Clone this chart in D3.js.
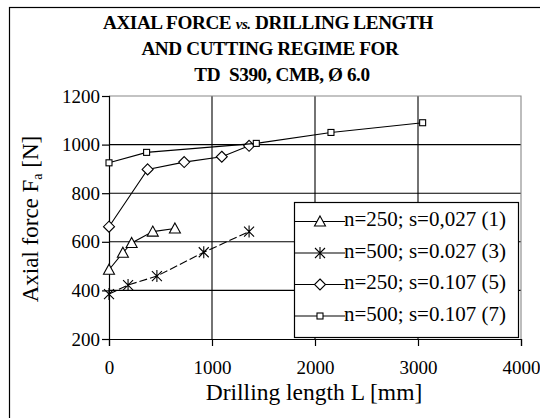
<!DOCTYPE html>
<html>
<head>
<meta charset="utf-8">
<script src="https://cdn.jsdelivr.net/npm/d3@7"></script>
<style>
  body { margin: 0; background: #fff; }
  svg, svg text { font-family: "Liberation Serif", "Times New Roman", serif; }
</style>
</head>
<body>
<div id="chart"></div>
<script>
// drilling length L [mm] and axial force Fa [N] per regime
const lenS1 = [0, 135, 220, 425, 640]
const forceS1 = [485, 555, 595, 642, 655]
const lenS3 = [0, 185, 465, 920, 1360]
const forceS3 = [385, 422, 459, 557, 642]
const lenS5 = [0, 375, 730, 1095, 1360]
const forceS5 = [662, 898, 928, 950, 995]
const lenS7 = [0, 365, 1430, 2155, 3045]
const forceS7 = [925, 968, 1005, 1050, 1090]

const seriesNames = ["n=250; s=0,027 (1)", "n=500; s=0.027 (3)", "n=250; s=0.107 (5)", "n=500; s=0.107 (7)"]
const xTicks = [0, 1000, 2000, 3000, 4000]
const yTicks = [200, 400, 600, 800, 1000, 1200]
const titleLines = ["AXIAL FORCE ", "AND CUTTING REGIME  FOR", "TD  S390, CMB, Ø 6.0"]

const width = 540, height = 418
const plot = {left: 109, right: 521, top: 96, bottom: 339}
const serif = "'Liberation Serif', 'Times New Roman', serif"

const series = [
  {name: seriesNames[0], xs: lenS1, ys: forceS1, marker: "triangle", dash: null},
  {name: seriesNames[1], xs: lenS3, ys: forceS3, marker: "asterisk", dash: "8,3"},
  {name: seriesNames[2], xs: lenS5, ys: forceS5, marker: "diamond", dash: null},
  {name: seriesNames[3], xs: lenS7, ys: forceS7, marker: "square", dash: null}
]

const x = d3.scaleLinear().domain([0, 4000]).range([plot.left, plot.right])
const y = d3.scaleLinear().domain([200, 1200]).range([plot.bottom, plot.top])

const svg = d3.select("#chart").append("svg")
    .attr("width", width)
    .attr("height", height)
    .attr("font-family", serif)

// outer frame (runs off the right/bottom edge like the original)
svg.append("rect")
    .attr("x", 9.5).attr("y", 7.5)
    .attr("width", 560).attr("height", 440)
    .attr("fill", "none").attr("stroke", "#000").attr("stroke-width", 1.2)

// title
const title = svg.append("g")
    .attr("font-weight", "bold")
    .attr("font-size", 19.2)
    .attr("text-anchor", "middle")
    .attr("letter-spacing", -0.4)
const t1 = title.append("text").attr("x", 268).attr("y", 29)
t1.append("tspan").text(titleLines[0])
t1.append("tspan").attr("font-style", "italic").attr("font-size", 15).text("vs.")
t1.append("tspan").text(" DRILLING LENGTH")
title.append("text").attr("x", 270).attr("y", 55).text(titleLines[1])
title.append("text").attr("x", 282).attr("y", 81).attr("xml:space", "preserve").text(titleLines[2])

// grid
svg.append("g")
    .selectAll("line")
    .data(yTicks.filter(d => d !== 200 && d !== 1200))
    .join("line")
      .attr("x1", plot.left).attr("x2", plot.right)
      .attr("y1", d => y(d)).attr("y2", d => y(d))
      .attr("stroke", "#000").attr("stroke-width", 1.1)

svg.append("g")
    .selectAll("line")
    .data(xTicks.filter(d => d !== 0 && d !== 4000))
    .join("line")
      .attr("x1", d => x(d)).attr("x2", d => x(d))
      .attr("y1", plot.top).attr("y2", plot.bottom)
      .attr("stroke", "#000").attr("stroke-width", 1.1)

// top and right border of plot area (lighter)
svg.append("path")
    .attr("d", `M${plot.left},${y(1200)}H${plot.right}V${plot.bottom}`)
    .attr("fill", "none").attr("stroke", "#888").attr("stroke-width", 1.1)

// axes
const xAxis = svg.append("g")
    .attr("transform", `translate(0,${plot.bottom})`)
    .call(d3.axisBottom(x).tickValues(xTicks).tickSize(7).tickPadding(14.5).tickFormat(d3.format("d")))
const yAxis = svg.append("g")
    .attr("transform", `translate(${plot.left},0)`)
    .call(d3.axisLeft(y).tickValues(yTicks).tickSize(7).tickPadding(2).tickFormat(d3.format("d")))

for (const ax of [xAxis, yAxis]) {
  ax.attr("font-family", serif).attr("font-size", 19)
  ax.select(".domain").attr("stroke", "#000").attr("stroke-width", 1.2)
  ax.selectAll(".tick line").attr("stroke", "#000").attr("stroke-width", 1.2)
  ax.selectAll(".tick text").attr("fill", "#000")
}
// ticks of y cross slightly into the plot
yAxis.selectAll(".tick line").attr("x1", 1)

// axis titles
svg.append("text")
    .attr("x", 314).attr("y", 400)
    .attr("text-anchor", "middle")
    .attr("font-size", 23.5)
    .text("Drilling length L [mm]")

const yl = svg.append("text")
    .attr("transform", "translate(38,219) rotate(-90)")
    .attr("text-anchor", "middle")
    .attr("font-size", 23)
yl.append("tspan").text("Axial force F")
yl.append("tspan").attr("font-size", 14).attr("dy", 4).text("a")
yl.append("tspan").attr("dy", -4).text(" [N]")

// markers
function drawMarker(g, type) {
  if (type === "triangle") {
    g.append("path").attr("d", "M0,-5.5L5.5,4.5L-5.5,4.5Z")
  } else if (type === "asterisk") {
    g.append("path").attr("d", "M0,-6V6M-5,-5L5,5M5,-5L-5,5")
  } else if (type === "diamond") {
    g.append("path").attr("d", "M0,-5.5L5.5,0L0,5.5L-5.5,0Z")
  } else {
    g.append("rect").attr("x", -3).attr("y", -3).attr("width", 6).attr("height", 6)
  }
}

const line = d3.line()

for (const s of series) {
  const pts = s.xs.map((v, i) => [x(v), y(s.ys[i])])
  svg.append("path")
      .attr("d", line(pts))
      .attr("fill", "none")
      .attr("stroke", "#000")
      .attr("stroke-width", 1.1)
      .attr("stroke-dasharray", s.dash)
  svg.append("g")
    .selectAll("g")
    .data(pts)
    .join("g")
      .attr("transform", d => `translate(${d[0]},${d[1]})`)
      .attr("fill", "#fff").attr("stroke", "#000").attr("stroke-width", 1.1)
      .each(function() { drawMarker(d3.select(this), s.marker) })
}

// legend
const lg = svg.append("g")
lg.append("rect")
    .attr("x", 294.5).attr("y", 202.5)
    .attr("width", 224).attr("height", 135)
    .attr("fill", "#fff").attr("stroke", "#000").attr("stroke-width", 1.2)

const rows = lg.selectAll("g.row")
    .data(series)
    .join("g")
      .attr("class", "row")
      .attr("transform", (d, i) => `translate(0,${221.5 + i * 31.5})`)

rows.append("line")
    .attr("x1", 295).attr("x2", 345)
    .attr("stroke", "#000").attr("stroke-width", 1.1)
rows.append("g")
    .attr("transform", "translate(320,0)")
    .attr("fill", "#fff").attr("stroke", "#000").attr("stroke-width", 1.1)
    .each(function(d) { drawMarker(d3.select(this), d.marker) })
rows.append("text")
    .attr("x", 344).attr("y", 4.5)
    .attr("font-size", 21)
    .text(d => d.name)
</script>
</body>
</html>
